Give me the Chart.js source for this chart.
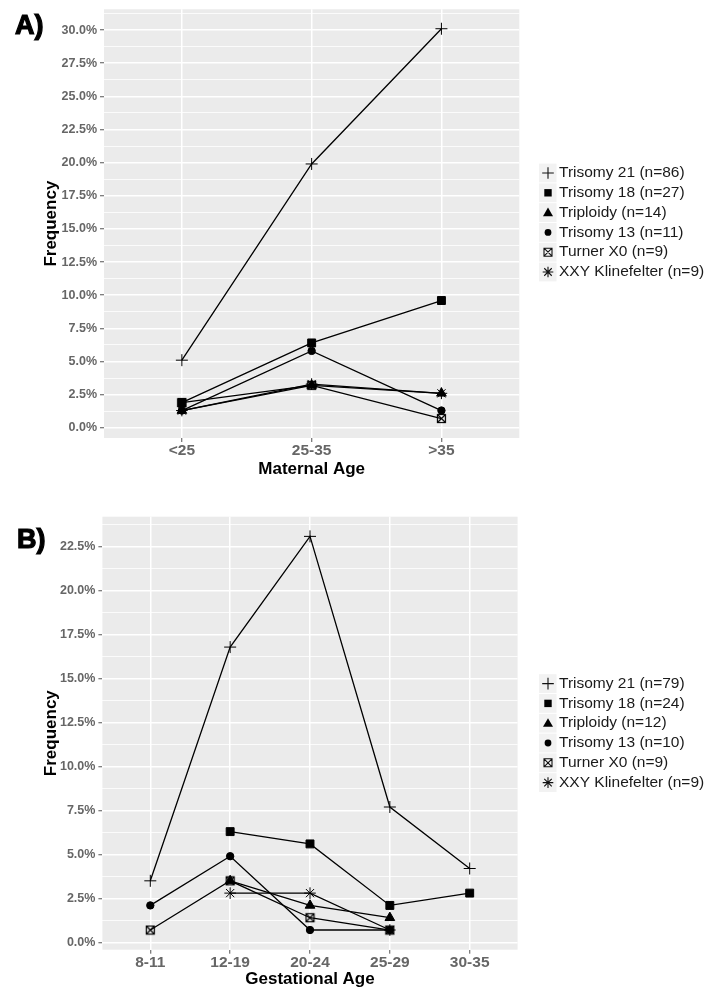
<!DOCTYPE html>
<html><head><meta charset="utf-8">
<script src="https://cdn.jsdelivr.net/npm/chart.js@4.4.1/dist/chart.umd.min.js"></script>
<style>
html,body{margin:0;padding:0;background:#fff;overflow:hidden;width:710px;height:989px}
#wa{position:absolute;left:0;top:0;width:710px;height:490px}
#wb{position:absolute;left:0;top:490px;width:710px;height:499px}
.lab{position:absolute;font-family:"Liberation Sans",Arial,sans-serif;font-weight:bold;font-size:27px;line-height:27px;color:#000;-webkit-text-stroke:1.2px #000}
</style></head><body>
<div id="wa"><canvas id="ca"></canvas></div>
<div id="wb"><canvas id="cb"></canvas></div>
<div class="lab" style="left:15px;top:11.5px">A)</div>
<div class="lab" style="left:17px;top:526px">B)</div>
<script>
// ---------- DATA ----------
const maternalAges = ["<25", "25-35", ">35"];
const gestationalAges = ["8-11", "12-19", "20-24", "25-29", "30-35"];

const seriesNamesA = ["Trisomy 21 (n=86)", "Trisomy 18 (n=27)", "Triploidy (n=14)", "Trisomy 13 (n=11)", "Turner X0 (n=9)", "XXY Klinefelter (n=9)"];
const seriesNamesB = ["Trisomy 21 (n=79)", "Trisomy 18 (n=24)", "Triploidy (n=12)", "Trisomy 13 (n=10)", "Turner X0 (n=9)", "XXY Klinefelter (n=9)"];

// Panel A: frequency (%) by maternal age
const aTrisomy21 = [5.1, 19.9, 30.1];
const aTrisomy18 = [1.9, 6.4, 9.6];
const aTriploidy = [1.3, 3.2, 2.6];
const aTrisomy13 = [1.3, 5.8, 1.3];
const aTurner = [1.9, 3.2, 0.7];
const aXXY = [1.3, 3.3, 2.6];

// Panel B: frequency (%) by gestational age
const bTrisomy21 = [3.5, 16.8, 23.1, 7.7, 4.2];
const bTrisomy18 = [null, 6.3, 5.6, 2.1, 2.8];
const bTriploidy = [null, 3.5, 2.1, 1.4, null];
const bTrisomy13 = [2.1, 4.9, 0.7, 0.7, null];
const bTurner = [0.7, 3.5, 1.4, 0.7, null];
const bXXY = [null, 2.8, 2.8, 0.7, null];

// Axis ticks
const yTicksA = [0, 2.5, 5, 7.5, 10, 12.5, 15, 17.5, 20, 22.5, 25, 27.5, 30];
const yTickLabelsA = ["0.0%", "2.5%", "5.0%", "7.5%", "10.0%", "12.5%", "15.0%", "17.5%", "20.0%", "22.5%", "25.0%", "27.5%", "30.0%"];
const yMinorA = [1.25, 3.75, 6.25, 8.75, 11.25, 13.75, 16.25, 18.75, 21.25, 23.75, 26.25, 28.75, 31.25];
const yTicksB = [0, 2.5, 5, 7.5, 10, 12.5, 15, 17.5, 20, 22.5];
const yTickLabelsB = ["0.0%", "2.5%", "5.0%", "7.5%", "10.0%", "12.5%", "15.0%", "17.5%", "20.0%", "22.5%"];
const yMinorB = [1.25, 3.75, 6.25, 8.75, 11.25, 13.75, 16.25, 18.75, 21.25, 23.75];
const yRangeA = [-0.77, 31.57];
const yRangeB = [-0.42, 24.22];

// ---------- STYLE ----------
const FONT = '"Liberation Sans", Arial, sans-serif';
const turnerImg = (() => {
  const c = document.createElement('canvas');
  c.width = 11; c.height = 11;
  const g = c.getContext('2d');
  g.strokeStyle = '#000'; g.lineWidth = 1.2;
  g.strokeRect(1.5, 1.5, 8, 8);
  g.beginPath(); g.moveTo(1.5, 1.5); g.lineTo(9.5, 9.5); g.moveTo(9.5, 1.5); g.lineTo(1.5, 9.5); g.stroke();
  return c;
})();
const symbols = ['plus', 'square', 'triangle', 'circle', 'box', 'star'];
const pointCfg = [
  {pointStyle: 'cross', pointRadius: 6},
  {pointStyle: 'rect', pointRadius: 5.6},
  {pointStyle: 'triangle', pointRadius: 5.6},
  {pointStyle: 'circle', pointRadius: 3.7},
  {pointStyle: turnerImg, pointRadius: 5},
  {pointStyle: 'star', pointRadius: 5.8}
];

function drawSymbol(ctx, type, x, y) {
  ctx.save();
  ctx.strokeStyle = '#111'; ctx.fillStyle = '#000'; ctx.lineWidth = 1.1;
  ctx.beginPath();
  if (type === 'plus') {
    ctx.moveTo(x - 5.8, y); ctx.lineTo(x + 5.8, y); ctx.moveTo(x, y - 5.8); ctx.lineTo(x, y + 5.8); ctx.stroke();
  } else if (type === 'square') {
    ctx.fillRect(x - 3.7, y - 3.7, 7.4, 7.4);
  } else if (type === 'triangle') {
    ctx.moveTo(x, y - 5); ctx.lineTo(x + 5, y + 3.6); ctx.lineTo(x - 5, y + 3.6); ctx.closePath(); ctx.fill();
  } else if (type === 'circle') {
    ctx.arc(x, y, 3.4, 0, Math.PI * 2); ctx.fill();
  } else if (type === 'box') {
    ctx.rect(x - 4, y - 4, 8, 8);
    ctx.moveTo(x - 4, y - 4); ctx.lineTo(x + 4, y + 4); ctx.moveTo(x + 4, y - 4); ctx.lineTo(x - 4, y + 4); ctx.stroke();
  } else if (type === 'star') {
    const r = 5.3, d = r * Math.SQRT1_2;
    ctx.moveTo(x - r, y); ctx.lineTo(x + r, y); ctx.moveTo(x, y - r); ctx.lineTo(x, y + r);
    ctx.moveTo(x - d, y - d); ctx.lineTo(x + d, y + d); ctx.moveTo(x + d, y - d); ctx.lineTo(x - d, y + d); ctx.stroke();
  }
  ctx.restore();
}

const panelBg = {
  id: 'panelBg',
  beforeDraw(chart) {
    const a = chart.chartArea, ctx = chart.ctx;
    ctx.save(); ctx.fillStyle = '#ebebeb';
    ctx.fillRect(a.left, a.top, a.right - a.left, a.bottom - a.top);
    ctx.restore();
  }
};
const ggLegend = {
  id: 'ggLegend',
  afterDraw(chart, args, opts) {
    const ctx = chart.ctx;
    ctx.save();
    opts.names.forEach((name, i) => {
      const cy = opts.top + i * opts.step;
      ctx.fillStyle = '#f2f2f2';
      ctx.fillRect(opts.x, cy - opts.step / 2 + 0.5, 17.5, opts.step - 1);
      drawSymbol(ctx, symbols[i], opts.x + 9, cy);
      ctx.fillStyle = '#1a1a1a';
      ctx.font = '15.5px ' + FONT;
      ctx.textBaseline = 'middle';
      ctx.textAlign = 'left';
      ctx.fillText(name, opts.x + 20, cy);
    });
    ctx.restore();
  }
};

function makeChart(id, cats, series, names, yTicks, yLabels, yMinor, yRange, xTitle, cfg) {
  const isMajor = v => yTicks.some(t => Math.abs(t - v) < 1e-6);
  const datasets = series.map((vals, i) => Object.assign({
    label: names[i],
    data: vals.map((v, j) => ({x: j, y: v})),
    borderColor: '#000', backgroundColor: '#000',
    pointBorderColor: '#000', pointBackgroundColor: '#000',
    pointBorderWidth: 1, borderWidth: 1.3, spanGaps: false, tension: 0
  }, pointCfg[i]));
  return new Chart(document.getElementById(id), {
    type: 'line',
    data: {datasets},
    plugins: [panelBg, ggLegend],
    options: {
      responsive: true, maintainAspectRatio: false, animation: false,
      layout: {padding: {top: cfg.top, right: cfg.right, left: 0, bottom: 0}},
      plugins: {
        legend: {display: false}, tooltip: {enabled: false},
        ggLegend: {names, x: 539, top: cfg.legTop, step: 19.8}
      },
      scales: {
        x: {
          type: 'linear', min: -0.6, max: cats.length - 0.4,
          afterBuildTicks: s => { s.ticks = cats.map((_, i) => ({value: i})); },
          afterFit: s => { s.height = cfg.xh; },
          ticks: {autoSkip: false, maxRotation: 0, padding: 1, color: '#666',
            font: {family: FONT, size: 15.5, weight: 'bold', lineHeight: 1},
            callback: (v) => cats[Math.round(v)]},
          grid: {color: '#ffffff', lineWidth: 1.5, tickLength: 4, tickColor: '#555', tickWidth: 1},
          border: {display: false},
          title: {display: true, text: xTitle, color: '#000',
            font: {family: FONT, size: 17, weight: 'bold', lineHeight: 1},
            padding: {top: 0, bottom: cfg.xtPad}}
        },
        y: {
          type: 'linear', min: yRange[0], max: yRange[1],
          afterBuildTicks: s => { s.ticks = yTicks.concat(yMinor).sort((a, b) => a - b).map(v => ({value: v})); },
          afterFit: s => { s.width = cfg.yw; },
          ticks: {autoSkip: false, padding: 3, color: '#666',
            font: {family: FONT, size: 12.5, weight: 'bold', lineHeight: 1},
            callback: (v) => { const k = yTicks.findIndex(t => Math.abs(t - v) < 1e-6); return k >= 0 ? yLabels[k] : ''; }},
          grid: {color: '#ffffff',
            lineWidth: c => (c.tick && isMajor(c.tick.value)) ? 1.5 : 0.8,
            tickLength: 4,
            tickColor: c => (c.tick && isMajor(c.tick.value)) ? '#555' : 'rgba(0,0,0,0)', tickWidth: 1},
          border: {display: false},
          title: {display: true, text: 'Frequency', color: '#000',
            font: {family: FONT, size: 17, weight: 'bold', lineHeight: 1},
            padding: {top: 42.5, bottom: 0}}
        }
      }
    }
  });
}

makeChart('ca', maternalAges,
  [aTrisomy21, aTrisomy18, aTriploidy, aTrisomy13, aTurner, aXXY], seriesNamesA,
  yTicksA, yTickLabelsA, yMinorA, yRangeA, 'Maternal Age',
  {top: 7, right: 190.7, xh: 52, yw: 104, xtPad: 12.4, legTop: 173});
makeChart('cb', gestationalAges,
  [bTrisomy21, bTrisomy18, bTriploidy, bTrisomy13, bTurner, bXXY], seriesNamesB,
  yTicksB, yTickLabelsB, yMinorB, yRangeB, 'Gestational Age',
  {top: 26.7, right: 192.4, xh: 39.3, yw: 102.4, xtPad: 1.4, legTop: 193.6});
</script>
</body></html>
